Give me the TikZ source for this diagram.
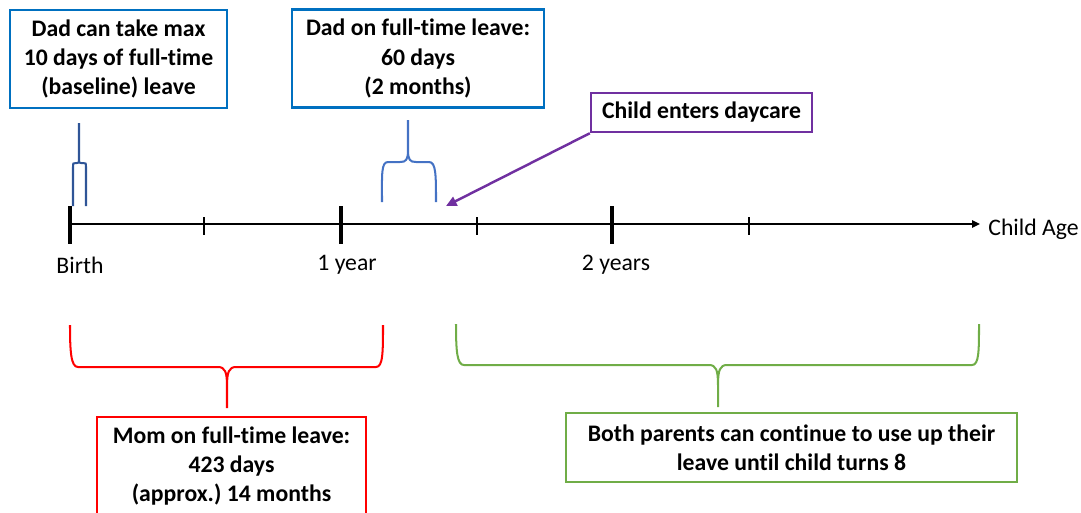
\documentclass[tikz,border=0pt]{standalone}
\usepackage{fontspec}
\setmainfont[Ligatures=NoCommon]{Carlito}
\usepackage{tikz}
\usetikzlibrary{arrows.meta}
\usetikzlibrary{positioning}

\definecolor{boxblue}{HTML}{0070C0}
\definecolor{bracedark}{HTML}{2F5597}
\definecolor{braceblue}{HTML}{4472C4}
\definecolor{daycarepurple}{HTML}{7030A0}
\definecolor{momred}{HTML}{FF0000}
\definecolor{bothgreen}{HTML}{70AD47}

\tikzset{
  infobox/.style={draw, line width=1.4pt, fill=white, align=center, inner sep=0pt,
    font=\fontsize{13.5pt}{16.6pt}\selectfont\bfseries},
  axislabel/.style={inner sep=0pt, font=\fontsize{13.5pt}{16.6pt}\selectfont},
  axisline/.style={line width=0.75pt},
  majortick/.style={line width=1.8pt},
  minortick/.style={line width=0.6pt},
  leavebrace/.style={line width=1.15pt}
}

\begin{document}
\begin{tikzpicture}[x=0.02cm, y=-0.02cm]
      \useasboundingbox (0,0) rectangle (1081,512);

      % time axis
      \coordinate (birth) at (70,224);
      \coordinate (axisend) at (980,224);
      \draw[axisline, -{Triangle[length=4.5pt,width=4.2pt]}] (birth) -- (axisend);
      \node[axislabel, anchor=west] (childage) at (988,229) {Child Age};

      \foreach \x in {70,341,612}
        \draw[majortick] (\x,206) -- (\x,244);
      \foreach \x in {204,477,749}
        \draw[minortick] (\x,217) -- (\x,235);

      \node[axislabel] (birthlbl) at (80,265) {Birth};
      \node[axislabel] (oneyear) at (347,265) {1 year};
      \node[axislabel] (twoyears) at (616,265) {2 years};

      % boxes
      \node[infobox, draw=boxblue, minimum width=4.34cm, minimum height=1.96cm]
        (dadmax) at (118.5,59) {Dad can take max\\10 days of full-time\\(baseline) leave};
      \node[infobox, draw=boxblue, minimum width=5.04cm, minimum height=1.96cm]
        (dadsixty) at (418,58.5) {Dad on full-time leave:\\60 days\\(2 months)};
      \node[infobox, draw=daycarepurple, minimum width=4.42cm, minimum height=0.78cm]
        (daycare) at (701.5,112.5) {Child enters daycare};
      \node[infobox, draw=momred, minimum width=5.38cm, minimum height=1.96cm]
        (mom) at (231.5,466) {Mom on full-time leave:\\423 days\\(approx.)\ 14 months};
      \node[infobox, draw=bothgreen, minimum width=9.02cm, minimum height=1.38cm]
        (both) at (791.5,447.5) {Both parents can continue to use up their\\leave until child turns 8};

      % daycare arrow
      \coordinate (daycareat) at (446,206);
      \draw[daycarepurple, line width=1.4pt, -{Triangle[length=6pt,width=5.5pt]}]
        (daycare.south west) -- (daycareat);

      % dad braces
      \draw[leavebrace, bracedark] (73,206) -- (73,167) .. controls (73,163) .. (76,163)
        -- (77,163) .. controls (79,163) .. (79,159) -- (79,123)
        (79,159) .. controls (79,163) .. (81,163) -- (83,163)
        .. controls (86,163) .. (86,167) -- (86,206);
      \draw[leavebrace, braceblue] (382,202) .. controls (382,175) and (381,162) .. (388,162)
        -- (400,162) .. controls (406,162) and (408,160) .. (408,150) -- (408,120)
        (408,150) .. controls (408,160) and (410,162) .. (416,162) -- (429,162)
        .. controls (436,162) and (436,175) .. (436,202);

      % mom brace
      \draw[leavebrace, momred] (70,325) .. controls (70,352) and (71,367) .. (78,367)
        -- (218,367) .. controls (225,367) and (227,372) .. (227,386) -- (227,408)
        (227,386) .. controls (227,372) and (229,367) .. (236,367) -- (376,367)
        .. controls (383,367) and (383,352) .. (383,325);

      % both parents brace
      \draw[leavebrace, bothgreen] (456,324) .. controls (456,351) and (457,365) .. (464,365)
        -- (709,365) .. controls (716,365) and (718,370) .. (718,385) -- (718,407)
        (718,385) .. controls (718,370) and (720,365) .. (727,365) -- (972,365)
        .. controls (979,365) and (979,351) .. (979,324);
\end{tikzpicture}
\end{document}
